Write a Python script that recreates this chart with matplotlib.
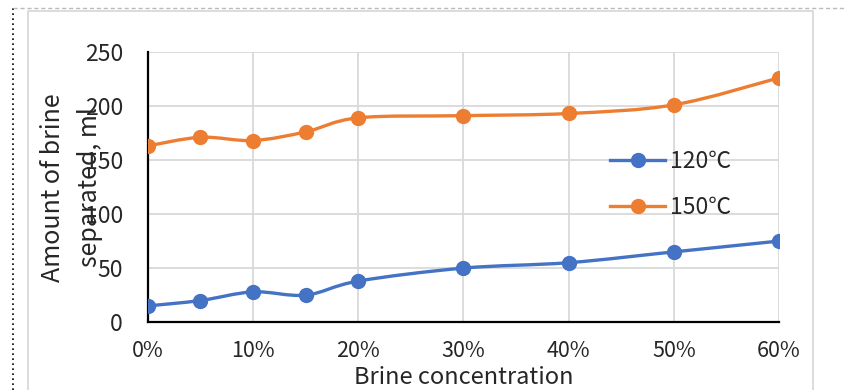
import numpy as np
import matplotlib
matplotlib.use("Agg")
import matplotlib.pyplot as plt
from matplotlib.path import Path
from matplotlib.patches import PathPatch
from matplotlib.lines import Line2D

plt.rcParams['font.family'] = ['Noto Sans CJK SC', 'DejaVu Sans']

# data
conc = [0, 5, 10, 15, 20, 30, 40, 50, 60]          # brine concentration, %
brine_120 = [15, 20, 28, 25, 38, 50, 55, 65, 75]    # ml
brine_150 = [163, 171, 168, 176, 189, 191, 193, 201, 226]
series_names = ['120℃', '150℃']
x_ticks = [0, 10, 20, 30, 40, 50, 60]
x_tick_labels = ['0%', '10%', '20%', '30%', '40%', '50%', '60%']
y_ticks = [0, 50, 100, 150, 200, 250]

BLUE = '#4472C4'
ORANGE = '#ED7D31'
GRID = '#D9D9D9'


def smooth_path(xs, ys, tension=0.5):
    # Excel-like smoothed line: Catmull-Rom segments as cubic Beziers
    xs = np.asarray(xs, float)
    ys = np.asarray(ys, float)
    n = len(xs)
    verts = [(xs[0], ys[0])]
    codes = [Path.MOVETO]
    for i in range(n - 1):
        i0 = max(i - 1, 0)
        i3 = min(i + 2, n - 1)
        c1 = (xs[i] + (xs[i + 1] - xs[i0]) * tension / 3,
              ys[i] + (ys[i + 1] - ys[i0]) * tension / 3)
        c2 = (xs[i + 1] - (xs[i3] - xs[i]) * tension / 3,
              ys[i + 1] - (ys[i3] - ys[i]) * tension / 3)
        verts += [c1, c2, (xs[i + 1], ys[i + 1])]
        codes += [Path.CURVE4] * 3
    return Path(verts, codes)


fig = plt.figure(figsize=(8.45, 3.9), dpi=100)
ax = fig.add_axes([0.175, 0.174, 0.747, 0.693])

for ys, col, name in [(brine_120, BLUE, series_names[0]),
                      (brine_150, ORANGE, series_names[1])]:
    ax.add_patch(PathPatch(smooth_path(conc, ys), fill=False,
                           edgecolor=col, lw=2.4, capstyle='round', zorder=3))
    ax.plot(conc, ys, ls='none', marker='o', ms=10, color=col, zorder=4)

ax.set_xlim(0, 60)
ax.set_ylim(0, 250)
ax.set_xticks(x_ticks)
ax.set_xticklabels(x_tick_labels)
ax.set_yticks(y_ticks)
ax.grid(True, color=GRID, lw=1.3)
ax.set_axisbelow(True)
for s in ['top', 'right']:
    ax.spines[s].set_visible(False)
for s in ['left', 'bottom']:
    ax.spines[s].set_linewidth(1.6)
    ax.spines[s].set_color('black')
    ax.spines[s].set_zorder(2)
ax.tick_params(axis='both', length=0, colors='#262626')
ax.tick_params(axis='y', pad=18, labelsize=16.5)
ax.tick_params(axis='x', pad=13, labelsize=15.5)
ax.set_xlabel('Brine concentration', fontsize=17, labelpad=3, color='#262626')

fig.text(0.085, 0.52, 'Amount of brine\nseparated, ml', rotation=90,
         ha='center', va='center', fontsize=18, linespacing=1.55,
         multialignment='center', color='#262626')

handles = [Line2D([], [], color=BLUE, lw=2.4, marker='o', ms=10),
           Line2D([], [], color=ORANGE, lw=2.4, marker='o', ms=10)]
leg = ax.legend(handles, series_names, loc='center left',
                bbox_to_anchor=(0.7, 0.51), frameon=False, fontsize=16.5,
                handlelength=2.4, handletextpad=0.2, labelspacing=1.0)
for t in leg.get_texts():
    t.set_color('#262626')

# outer frame decorations
fig.add_artist(Line2D([13 / 845, 13 / 845], [0, 1 - 8 / 390], ls=(0, (1, 2)),
                      color='black', lw=1.2, transform=fig.transFigure))
fig.add_artist(Line2D([13 / 845, 1], [1 - 8 / 390, 1 - 8 / 390], ls=(0, (3, 2)),
                      color='#BBBBBB', lw=1.0, transform=fig.transFigure))
fig.add_artist(Line2D([28 / 845, 28 / 845, 813 / 845, 813 / 845],
                      [0, 1 - 11 / 390, 1 - 11 / 390, 0],
                      color='#D9D9D9', lw=1.3, transform=fig.transFigure))

fig.savefig('out.png', dpi=100)
